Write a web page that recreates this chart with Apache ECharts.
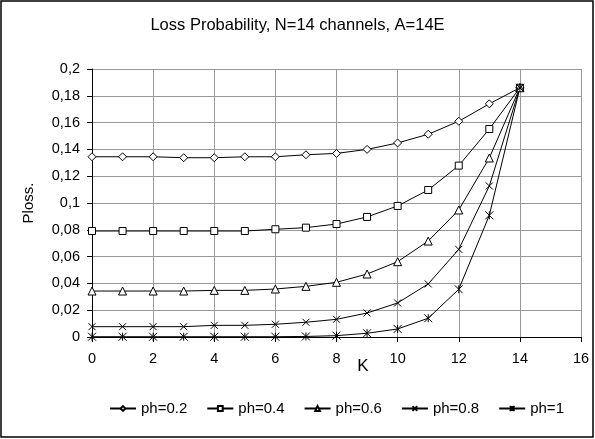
<!DOCTYPE html>
<html>
<head>
	<meta charset="utf-8">
	<title>Loss Probability</title>
	<style>
		html, body { margin: 0; padding: 0; background: #fff; }
	</style>
</head>

<body>
	<div style="width:595px;height:439px;" id="chart1"></div>

	<script src="https://cdn.jsdelivr.net/npm/echarts@6/dist/echarts.min.js"></script>
	<script>

	// K values (x axis)
	var kValues = [0, 1, 2, 3, 4, 5, 6, 7, 8, 9, 10, 11, 12, 13, 14];

	// loss probability per ph
	var ph02 = [0.1345, 0.1345, 0.1345, 0.1338, 0.1338, 0.1345, 0.1345, 0.136, 0.137, 0.140, 0.1448, 0.1513, 0.161, 0.174, 0.186];
	var ph04 = [0.0791, 0.0791, 0.0791, 0.0791, 0.0791, 0.0791, 0.0804, 0.0816, 0.0843, 0.0896, 0.0978, 0.1097, 0.1279, 0.1552, 0.186];
	var ph06 = [0.0343, 0.0343, 0.0343, 0.0343, 0.0348, 0.0348, 0.0358, 0.0378, 0.0408, 0.047, 0.0562, 0.0716, 0.0948, 0.1336, 0.186];
	var ph08 = [0.0077, 0.0077, 0.0077, 0.0077, 0.0087, 0.0087, 0.0095, 0.011, 0.0132, 0.0179, 0.0254, 0.0396, 0.0654, 0.1127, 0.186];
	var ph10 = [0.0002, 0.0002, 0.0002, 0.0002, 0.0002, 0.0002, 0.0002, 0.0004, 0.001, 0.0028, 0.006, 0.014, 0.0356, 0.0908, 0.186];

	var seriesNames = ['ph=0.2', 'ph=0.4', 'ph=0.6', 'ph=0.8', 'ph=1'];
	var seriesData = [ph02, ph04, ph06, ph08, ph10];

	var symbols = [
		'diamond',
		'rect',
		'triangle',
		'path://M0,0L10,10M10,0L0,10',
		'path://M5,0L5,10M0,0L10,10M10,0L0,10'
	];
	var symbolSizes = [8, 7, 8, 7, 8];

	function pairs(ys) {
		var out = [];
		for (var i = 0; i < kValues.length; i++) {
			out.push([kValues[i], ys[i]]);
		}
		return out;
	}

	var series = [];
	for (var i = 0; i < seriesNames.length; i++) {
		series.push({
			name: seriesNames[i],
			type: 'line',
			data: pairs(seriesData[i]),
			symbol: symbols[i],
			symbolSize: symbolSizes[i],
			showAllSymbol: true,
			lineStyle: { color: '#000', width: 1 },
			itemStyle: { color: '#fff', borderColor: '#000', borderWidth: 1 },
			emphasis: { disabled: true },
			animation: false
		});
	}

	var font = 'Liberation Sans, Arial, sans-serif';
	var myChart = echarts.init(document.getElementById('chart1'));

	var option = {
		backgroundColor: '#fff',
		textStyle: { fontFamily: font, color: '#000' },
		title: {
			text: 'Loss Probability, N=14 channels, A=14E',
			left: 'center',
			top: 12,
			textStyle: { fontFamily: font, fontSize: 16.5, fontWeight: 'normal', color: '#000' }
		},
		legend: {
			left: 104,
			top: 396,
			itemWidth: 26,
			itemHeight: 6,
			itemGap: 19,
			textStyle: { fontFamily: font, fontSize: 15, color: '#000' },
			data: seriesNames
		},
		grid: {
			left: 92,
			top: 69,
			right: 14,
			bottom: 102
		},
		xAxis: {
			type: 'value',
			min: 0,
			max: 16,
			interval: 2,
			name: 'K',
			nameLocation: 'middle',
			nameGap: 21,
			nameMoveOverlap: false,
			nameTextStyle: { fontFamily: font, fontSize: 17, color: '#000', padding: [0, 0, 0, 53] },
			axisLine: { lineStyle: { color: '#000', width: 1 } },
			axisTick: { show: true, inside: false, length: 5, lineStyle: { color: '#000' } },
			axisLabel: { fontFamily: font, fontSize: 14.5, color: '#000', margin: 14 },
			splitLine: { show: true, lineStyle: { color: '#999', width: 1 } }
		},
		yAxis: {
			type: 'value',
			min: 0,
			max: 0.2,
			interval: 0.02,
			name: 'Ploss.',
			nameLocation: 'middle',
			nameGap: 56,
			nameMoveOverlap: false,
			nameTextStyle: { fontFamily: font, fontSize: 15, color: '#000' },
			axisLine: { show: true, lineStyle: { color: '#000', width: 1 } },
			axisTick: { show: true, inside: false, length: 5, lineStyle: { color: '#000' } },
			axisLabel: {
				fontFamily: font, fontSize: 14.5, color: '#000', margin: 12,
				formatter: function (v) { return String(+v.toFixed(2)).replace('.', ','); }
			},
			splitLine: { show: true, lineStyle: { color: '#999', width: 1 } }
		},
		graphic: [{
			type: 'rect',
			shape: { x: 1, y: 1, width: 592, height: 436 },
			style: { fill: 'none', stroke: '#000', lineWidth: 1.5 },
			silent: true
		}],
		series: series
	};

	myChart.setOption(option);

	</script>
</body>

</html>
